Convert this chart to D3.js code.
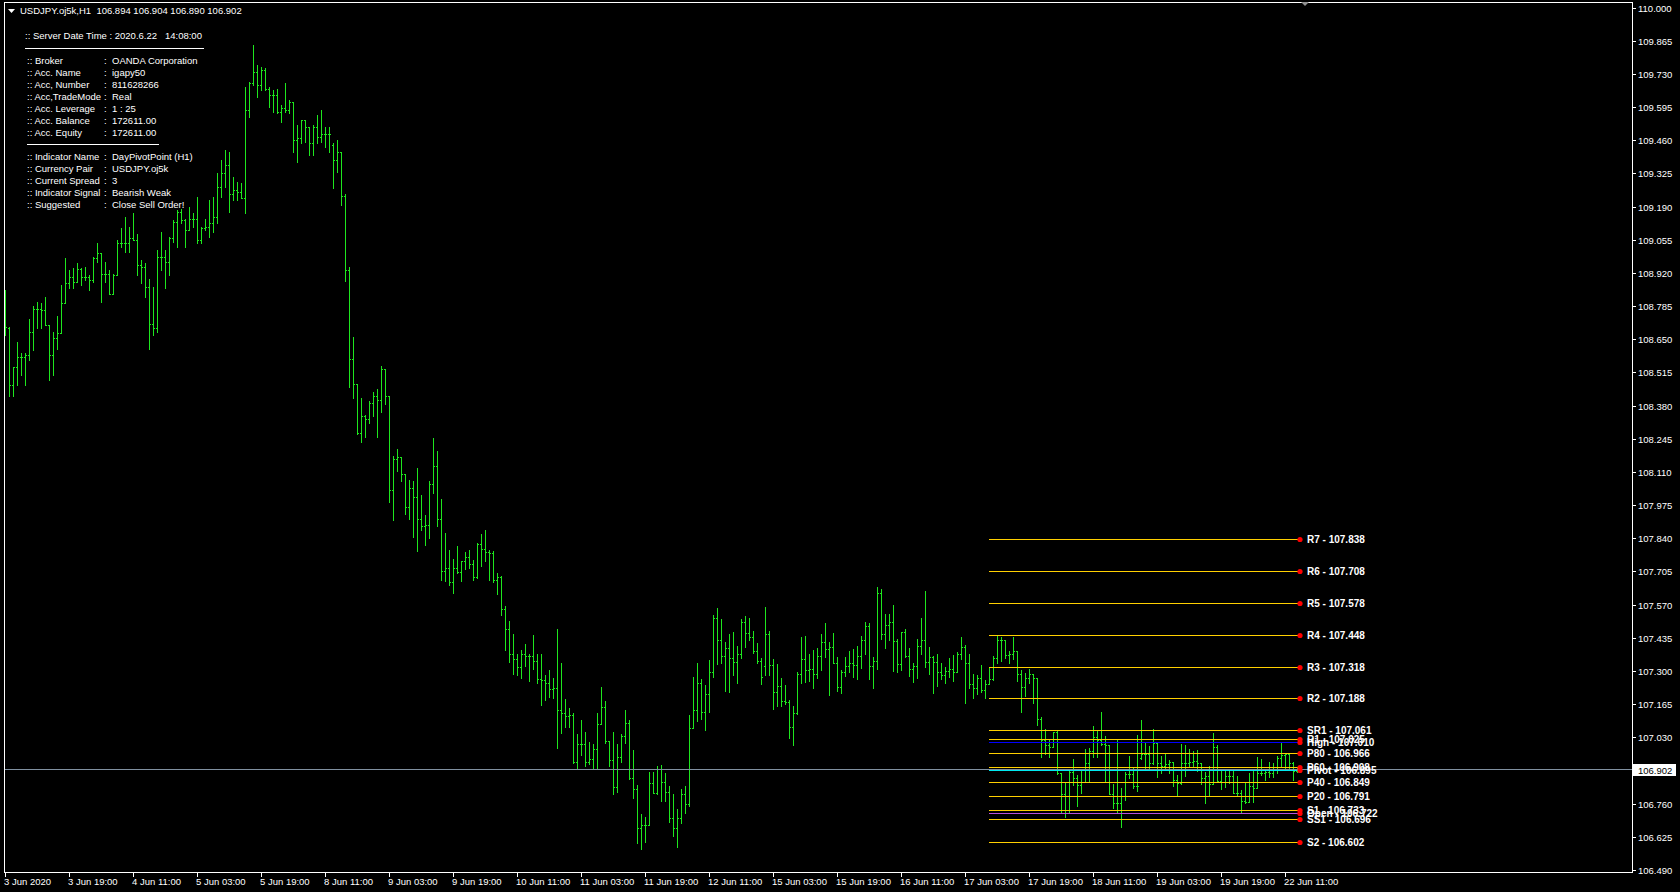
<!DOCTYPE html>
<html>
<head>
<meta charset="utf-8">
<script src="https://cdn.jsdelivr.net/npm/d3@7"></script>
<style>
  html, body { margin: 0; padding: 0; background: #000; overflow: hidden; }
  text { font-family: "Liberation Sans", Arial, sans-serif; }
</style>
</head>
<body>
<div id="chart"></div>
<script>
// USDJPY H1 bars, 3 Jun 03:00 .. 22 Jun 14:00
const opens = [
  108.800,108.697,108.463,108.538,108.579,108.579,108.585,108.680,108.775,108.775,
  108.768,108.708,108.585,108.653,108.676,108.796,108.877,108.904,108.884,108.934,
  108.904,108.904,108.891,108.979,108.999,108.917,108.917,108.836,108.911,109.040,
  109.040,109.040,109.060,109.053,108.952,108.945,108.863,108.714,108.694,108.986,
  108.986,108.965,109.060,109.128,109.168,109.135,109.094,109.141,109.141,109.053,
  109.101,109.107,109.121,109.148,109.270,109.325,109.358,109.243,109.257,109.250,
  109.223,109.582,109.691,109.738,109.684,109.745,109.670,109.643,109.643,109.576,
  109.589,109.582,109.616,109.460,109.467,109.542,109.514,109.447,109.514,109.474,
  109.487,109.487,109.440,109.379,109.413,109.233,108.930,108.570,108.466,108.267,
  108.339,108.324,108.390,108.419,108.403,108.529,108.419,108.036,108.161,108.172,
  108.100,107.968,108.043,108.006,107.917,107.888,107.892,108.059,108.134,107.917,
  107.708,107.718,107.661,107.718,107.702,107.746,107.765,107.736,107.684,107.816,
  107.797,107.784,107.780,107.670,107.684,107.551,107.471,107.367,107.348,107.316,
  107.367,107.361,107.361,107.339,107.269,107.263,107.253,107.225,107.229,107.140,
  107.127,107.117,107.121,106.931,107.001,107.001,106.931,106.941,106.982,107.083,
  107.153,107.016,106.937,106.827,106.950,107.035,107.089,106.865,106.821,106.660,
  106.675,106.675,106.846,106.804,106.899,106.850,106.808,106.700,106.660,106.700,
  106.800,106.760,107.069,107.141,107.249,107.131,107.205,107.294,107.514,107.428,
  107.361,107.392,107.351,107.335,107.369,107.498,107.453,107.439,107.381,107.340,
  107.320,107.449,107.323,107.215,107.240,107.179,107.172,107.073,107.127,107.286,
  107.348,107.304,107.310,107.286,107.362,107.416,107.388,107.399,107.333,107.236,
  107.294,107.320,107.333,107.324,107.361,107.426,107.483,107.320,107.340,107.618,
  107.449,107.487,107.498,107.422,107.327,107.457,107.362,107.310,107.321,107.403,
  107.426,107.335,107.355,107.335,107.297,107.283,107.300,107.306,107.294,107.367,
  107.399,107.331,107.245,107.232,107.270,107.222,107.245,107.267,107.351,107.428,
  107.428,107.365,107.371,107.382,107.287,107.233,107.270,107.287,107.270,107.103,
  107.021,106.998,106.989,107.053,106.883,106.799,106.791,106.890,106.863,106.836,
  106.899,106.926,106.974,107.032,107.019,107.002,106.998,106.799,106.764,106.764,
  106.791,106.880,106.880,106.832,106.945,106.964,106.962,106.926,107.005,106.926,
  106.913,106.921,106.931,106.856,106.845,106.924,106.926,106.931,106.933,106.924,
  106.863,106.872,106.840,106.992,106.853,106.849,106.872,106.872,106.804,106.804,
  106.770,106.768,106.832,106.822,106.883,106.883,106.890,106.886,106.910,106.944,
  106.958,106.964,106.924,106.894
];
const highs = [
  108.850,108.700,108.538,108.640,108.595,108.592,108.734,108.785,108.802,108.798,
  108.823,108.708,108.680,108.744,108.870,108.979,108.931,108.938,108.959,108.938,
  108.945,108.911,108.986,109.040,108.999,108.965,108.931,108.917,109.053,109.101,
  109.148,109.107,109.162,109.078,108.972,108.959,108.897,108.863,109.012,109.087,
  109.012,109.067,109.135,109.175,109.182,109.141,109.189,109.162,109.230,109.107,
  109.141,109.216,109.230,109.325,109.379,109.420,109.413,109.311,109.291,109.284,
  109.677,109.698,109.847,109.766,109.759,109.752,109.677,109.664,109.670,109.603,
  109.691,109.623,109.616,109.521,109.542,109.542,109.514,109.521,109.562,109.582,
  109.514,109.514,109.447,109.460,109.413,109.239,108.945,108.659,108.466,108.409,
  108.343,108.400,108.434,108.447,108.542,108.529,108.419,108.176,108.204,108.172,
  108.100,108.078,108.074,108.125,108.015,107.935,108.074,108.248,108.195,107.998,
  107.860,107.793,107.755,107.807,107.746,107.784,107.793,107.750,107.822,107.858,
  107.873,107.793,107.788,107.699,107.686,107.566,107.504,107.452,107.367,107.386,
  107.409,107.367,107.448,107.367,107.367,107.282,107.304,107.272,107.471,107.333,
  107.187,107.149,107.127,107.045,107.102,107.051,107.011,107.001,107.130,107.234,
  107.177,107.016,107.051,107.001,107.045,107.140,107.102,106.978,106.837,106.717,
  106.704,106.888,106.888,106.912,106.918,106.884,106.831,106.800,106.740,106.820,
  106.830,107.120,107.276,107.331,107.267,107.243,107.344,107.528,107.555,107.510,
  107.419,107.450,107.457,107.401,107.510,107.523,107.514,107.462,107.412,107.351,
  107.561,107.462,107.348,107.328,107.270,107.243,107.181,107.157,107.294,107.437,
  107.442,107.367,107.385,107.392,107.450,107.494,107.416,107.453,107.355,107.304,
  107.355,107.381,107.389,107.401,107.442,107.500,107.494,107.355,107.640,107.633,
  107.531,107.531,107.568,107.432,107.460,107.470,107.392,107.331,107.432,107.514,
  107.625,107.396,107.361,107.369,107.333,107.315,107.351,107.365,107.376,107.437,
  107.405,107.371,107.287,107.283,107.324,107.263,107.317,107.361,107.442,107.437,
  107.428,107.382,107.437,107.382,107.304,107.290,107.306,107.287,107.270,107.111,
  107.062,107.025,107.053,107.055,106.886,106.849,106.897,106.940,106.876,106.899,
  106.981,106.985,107.076,107.055,107.134,107.035,106.998,106.840,107.025,106.822,
  106.890,106.954,106.910,107.039,107.100,107.005,106.994,107.062,107.008,106.954,
  106.961,106.937,106.931,106.876,107.002,106.998,106.982,106.975,106.978,106.926,
  106.890,106.913,107.046,106.998,106.897,106.894,106.899,106.899,106.872,106.815,
  106.845,106.886,106.903,106.951,106.940,106.903,106.931,106.926,106.954,107.005,
  106.967,106.964,106.931,106.904
];
const lows = [
  108.667,108.418,108.418,108.463,108.504,108.463,108.565,108.606,108.694,108.694,
  108.708,108.484,108.504,108.612,108.676,108.796,108.857,108.857,108.884,108.870,
  108.891,108.850,108.884,108.965,108.802,108.884,108.836,108.836,108.911,109.026,
  109.006,109.006,109.053,108.911,108.877,108.823,108.612,108.667,108.680,108.931,
  108.857,108.911,109.046,109.026,109.121,109.026,109.094,109.107,109.040,109.040,
  109.094,109.067,109.087,109.121,109.230,109.270,109.168,109.216,109.216,109.223,
  109.162,109.555,109.684,109.637,109.664,109.664,109.596,109.576,109.569,109.535,
  109.576,109.569,109.413,109.372,109.447,109.453,109.399,109.399,109.447,109.453,
  109.433,109.413,109.264,109.332,109.195,108.888,108.457,108.409,108.263,108.233,
  108.252,108.311,108.339,108.252,108.352,108.385,107.987,107.913,108.115,108.072,
  107.939,107.917,107.846,107.788,107.873,107.812,107.841,108.024,107.888,107.670,
  107.665,107.651,107.619,107.699,107.665,107.714,107.718,107.670,107.680,107.727,
  107.746,107.670,107.661,107.613,107.528,107.386,107.335,107.286,107.282,107.272,
  107.320,107.259,107.310,107.253,107.162,107.181,107.193,107.191,106.988,107.049,
  107.073,107.073,106.926,106.899,106.960,106.912,106.922,106.899,106.899,107.083,
  107.007,106.912,106.799,106.808,106.931,107.007,106.861,106.785,106.600,106.575,
  106.604,106.675,106.802,106.799,106.770,106.770,106.685,106.630,106.585,106.680,
  106.720,106.750,107.066,107.097,107.103,107.059,107.134,107.276,107.328,107.331,
  107.219,107.215,107.283,107.252,107.354,107.399,107.428,107.374,107.333,107.247,
  107.283,107.283,107.145,107.158,107.158,107.165,107.028,106.998,107.125,107.249,
  107.256,107.260,107.232,107.272,107.304,107.358,107.202,107.331,107.219,107.211,
  107.281,107.294,107.274,107.266,107.313,107.369,107.266,107.229,107.306,107.432,
  107.392,107.428,107.301,107.297,107.304,107.358,107.281,107.256,107.272,107.371,
  107.317,107.287,107.211,107.240,107.266,107.252,107.277,107.260,107.294,107.347,
  107.168,107.232,107.192,107.205,107.213,107.188,107.245,107.263,107.333,107.342,
  107.351,107.333,107.347,107.260,107.134,107.199,107.249,107.168,107.082,106.951,
  106.964,106.951,106.989,106.880,106.727,106.704,106.720,106.836,106.751,106.804,
  106.849,106.853,106.948,106.948,106.998,106.852,106.799,106.743,106.727,106.666,
  106.774,106.863,106.822,106.813,106.940,106.903,106.897,106.921,106.867,106.886,
  106.903,106.886,106.833,106.795,106.842,106.872,106.913,106.913,106.894,106.840,
  106.764,106.795,106.840,106.853,106.818,106.829,106.845,106.802,106.795,106.727,
  106.761,106.768,106.768,106.822,106.876,106.856,106.869,106.869,106.886,106.910,
  106.907,106.899,106.856,106.890
];
const closes = [
  108.701,108.463,108.538,108.579,108.579,108.585,108.680,108.775,108.775,108.768,
  108.708,108.585,108.653,108.676,108.796,108.877,108.904,108.884,108.934,108.904,
  108.904,108.891,108.979,108.999,108.917,108.917,108.836,108.911,109.040,109.040,
  109.040,109.060,109.053,108.952,108.945,108.863,108.714,108.694,108.986,108.986,
  108.965,109.060,109.128,109.168,109.135,109.094,109.141,109.141,109.053,109.101,
  109.107,109.121,109.148,109.270,109.325,109.358,109.243,109.257,109.250,109.223,
  109.582,109.691,109.738,109.684,109.745,109.670,109.643,109.643,109.576,109.589,
  109.582,109.616,109.460,109.467,109.542,109.514,109.447,109.514,109.474,109.487,
  109.487,109.487,109.379,109.413,109.233,108.930,108.570,108.466,108.267,108.339,
  108.324,108.390,108.419,108.403,108.529,108.419,108.036,108.161,108.172,108.100,
  107.968,108.043,108.006,107.917,107.888,107.892,108.059,108.134,107.917,107.708,
  107.718,107.661,107.718,107.702,107.746,107.765,107.736,107.684,107.816,107.797,
  107.784,107.780,107.670,107.684,107.551,107.471,107.367,107.348,107.316,107.367,
  107.361,107.361,107.339,107.269,107.263,107.253,107.225,107.229,107.140,107.127,
  107.117,107.121,106.931,107.001,107.001,106.931,106.941,106.982,107.083,107.153,
  107.016,106.937,106.827,106.950,107.035,107.089,106.865,106.821,106.660,106.675,
  106.675,106.846,106.804,106.899,106.850,106.808,106.700,106.660,106.700,106.800,
  106.760,107.069,107.141,107.249,107.131,107.205,107.294,107.514,107.428,107.361,
  107.392,107.351,107.335,107.369,107.498,107.453,107.439,107.381,107.340,107.274,
  107.449,107.323,107.215,107.240,107.179,107.172,107.073,107.127,107.286,107.348,
  107.304,107.310,107.286,107.362,107.416,107.388,107.399,107.333,107.236,107.294,
  107.320,107.333,107.324,107.361,107.426,107.483,107.320,107.340,107.618,107.449,
  107.487,107.498,107.422,107.327,107.457,107.362,107.310,107.321,107.403,107.426,
  107.335,107.355,107.335,107.297,107.283,107.300,107.306,107.294,107.367,107.399,
  107.331,107.245,107.232,107.270,107.222,107.245,107.267,107.351,107.428,107.428,
  107.365,107.371,107.382,107.287,107.233,107.270,107.287,107.270,107.103,107.021,
  106.998,106.989,107.053,106.883,106.799,106.791,106.890,106.863,106.836,106.899,
  106.926,106.974,107.032,107.019,107.002,106.998,106.799,106.764,106.764,106.791,
  106.880,106.880,106.832,106.832,106.964,106.962,106.926,107.005,106.926,106.913,
  106.921,106.931,106.856,106.845,106.924,106.926,106.931,106.933,106.924,106.863,
  106.872,106.840,106.992,106.853,106.849,106.872,106.872,106.804,106.804,106.770,
  106.768,106.832,106.822,106.883,106.883,106.890,106.886,106.910,106.944,106.958,
  106.964,106.924,106.894,106.902
];

// time axis labels every 16 bars
const timeLabels = [
  '3 Jun 2020', '3 Jun 19:00', '4 Jun 11:00', '5 Jun 03:00', '5 Jun 19:00',
  '8 Jun 11:00', '9 Jun 03:00', '9 Jun 19:00', '10 Jun 11:00', '11 Jun 03:00',
  '11 Jun 19:00', '12 Jun 11:00', '15 Jun 03:00', '15 Jun 19:00', '16 Jun 11:00',
  '17 Jun 03:00', '17 Jun 19:00', '18 Jun 11:00', '19 Jun 03:00', '19 Jun 19:00',
  '22 Jun 11:00'
];
// price axis (106.895 is hidden behind the bid label)
const priceTicks = [
  110.000, 109.865, 109.730, 109.595, 109.460, 109.325, 109.190, 109.055, 108.920,
  108.785, 108.650, 108.515, 108.380, 108.245, 108.110, 107.975, 107.840, 107.705,
  107.570, 107.435, 107.300, 107.165, 107.030, 106.760, 106.625, 106.490
];

// DayPivotPoint levels
const pivotNames = ['R7', 'R6', 'R5', 'R4', 'R3', 'R2', 'SR1', 'R1', 'High', 'P80',
  'P60', 'Pivot', 'P40', 'P20', 'S1', 'Open', 'SS1', 'S2'];
const pivotValues = [107.838, 107.708, 107.578, 107.448, 107.318, 107.188, 107.061,
  107.025, 107.010, 106.966, 106.908, 106.895, 106.849, 106.791, 106.733, 106.722,
  106.696, 106.602];
const pivotStartBar = 246;

const bid = 106.902;
const header = ['USDJPY.oj5k,H1', 106.894, 106.904, 106.890, 106.902];

const infoLabels1 = [':: Broker', ':: Acc. Name', ':: Acc, Number', ':: Acc,TradeMode',
  ':: Acc. Leverage', ':: Acc. Balance', ':: Acc. Equity'];
const infoValues1 = ['OANDA Corporation', 'igapy50', '811628266', 'Real', '1 : 25',
  '172611.00', '172611.00'];
const infoLabels2 = [':: Indicator Name', ':: Currency Pair', ':: Current Spread',
  ':: Indicator Signal', ':: Suggested'];
const infoValues2 = ['DayPivotPoint (H1)', 'USDJPY.oj5k', '3', 'Bearish Weak',
  'Close Sell Order!'];

// ---- layout ----
const W = 1680, H = 892;
const plotL = 4, plotR = 1632, plotT = 2, plotB = 872;
const barColor = '#1ee61e';
const lineColor = { High: '#0000ff', Pivot: '#00e8f0', Open: '#b850d8' };

const svg = d3.select('#chart').append('svg')
  .attr('width', W).attr('height', H)
  .style('background', '#000');

const x = d3.scaleLinear().domain([0, opens.length - 1]).range([5, 1297]);
const y = d3.scaleLinear().domain([106.490, 110.000]).range([870, 7.5]);
const px = v => Math.round(x(v));
const py = v => Math.round(y(v));

// bars
const bars = svg.append('g')
  .attr('stroke', barColor)
  .attr('stroke-width', 1)
  .attr('fill', 'none')
  .attr('shape-rendering', 'crispEdges');

bars.selectAll('path')
  .data(d3.range(opens.length))
  .join('path')
  .attr('d', i => {
    const xi = px(i);
    return `M${xi + 0.5},${py(highs[i])}V${py(lows[i]) + 1}` +
      `M${xi - 1},${py(opens[i]) + 0.5}h1` +
      `M${xi + 1},${py(closes[i]) + 0.5}h1`;
  });

// bid line
svg.append('line')
  .attr('x1', plotL).attr('x2', plotR)
  .attr('y1', py(bid) + 0.5).attr('y2', py(bid) + 0.5)
  .attr('stroke', '#8090a0')
  .attr('shape-rendering', 'crispEdges');

// pivot lines, dots and labels
const pv = svg.append('g');
const pxStart = px(pivotStartBar);
const pxEnd = 1298;
pv.selectAll('line')
  .data(pivotNames)
  .join('line')
  .attr('x1', pxStart).attr('x2', pxEnd)
  .attr('y1', (d, i) => py(pivotValues[i]) + 0.5)
  .attr('y2', (d, i) => py(pivotValues[i]) + 0.5)
  .attr('stroke', d => lineColor[d] || '#ffd000')
  .attr('stroke-width', 1)
  .attr('shape-rendering', 'crispEdges');

pv.selectAll('circle')
  .data(pivotNames)
  .join('circle')
  .attr('cx', pxEnd + 2)
  .attr('cy', (d, i) => py(pivotValues[i]) + 0.5)
  .attr('r', 2.6)
  .attr('fill', '#ff0000');

pv.selectAll('text')
  .data(pivotNames)
  .join('text')
  .attr('x', pxEnd + 9)
  .attr('y', (d, i) => py(pivotValues[i]) + 4)
  .attr('fill', '#ffffff')
  .attr('font-size', 10)
  .attr('font-weight', 'bold')
  .text((d, i) => `${d} - ${pivotValues[i].toFixed(3)}`);

// frame
svg.append('rect')
  .attr('x', plotL + 0.5).attr('y', plotT + 0.5)
  .attr('width', plotR - plotL).attr('height', plotB - plotT)
  .attr('fill', 'none')
  .attr('stroke', '#ffffff')
  .attr('shape-rendering', 'crispEdges');

// price axis
const pa = svg.append('g');
pa.selectAll('line')
  .data(priceTicks)
  .join('line')
  .attr('x1', plotR).attr('x2', plotR + 4)
  .attr('y1', d => py(d) + 0.5).attr('y2', d => py(d) + 0.5)
  .attr('stroke', '#ffffff')
  .attr('shape-rendering', 'crispEdges');
pa.selectAll('text')
  .data(priceTicks)
  .join('text')
  .attr('x', plotR + 6)
  .attr('y', d => py(d) + 4)
  .attr('fill', '#ffffff')
  .attr('font-size', 9.5)
  .text(d => d.toFixed(3));

// bid label
svg.append('rect')
  .attr('x', plotR + 1).attr('y', py(bid) - 5)
  .attr('width', 43).attr('height', 12)
  .attr('fill', '#ffffff');
svg.append('text')
  .attr('x', plotR + 6).attr('y', py(bid) + 4.5)
  .attr('fill', '#000000')
  .attr('font-size', 9.5)
  .text(bid.toFixed(3));

// time axis
const ta = svg.append('g');
ta.selectAll('line')
  .data(timeLabels)
  .join('line')
  .attr('x1', (d, i) => px(i * 16) + 0.5).attr('x2', (d, i) => px(i * 16) + 0.5)
  .attr('y1', plotB).attr('y2', plotB + 5)
  .attr('stroke', '#ffffff')
  .attr('shape-rendering', 'crispEdges');
ta.selectAll('text')
  .data(timeLabels)
  .join('text')
  .attr('x', (d, i) => px(i * 16) - 1)
  .attr('y', plotB + 13)
  .attr('fill', '#ffffff')
  .attr('font-size', 9.5)
  .text(d => d);

// header and chart shift marker
svg.append('path').attr('d', 'M8,9L15,9L11.5,13Z').attr('fill', '#ffffff');
svg.append('text')
  .attr('x', 20).attr('y', 14)
  .attr('fill', '#ffffff')
  .attr('font-size', 9.5)
  .attr('xml:space', 'preserve')
  .text(`${header[0]}  ${header.slice(1).map(v => v.toFixed(3)).join(' ')}`);
svg.append('path').attr('d', 'M1301,2L1309,2L1305,6Z').attr('fill', '#909090');

// info panel
const info = svg.append('g').attr('fill', '#ffffff').attr('font-size', 9.5);
info.append('text').attr('x', 25).attr('y', 39)
  .attr('xml:space', 'preserve')
  .text(':: Server Date Time : 2020.6.22   14:08:00');
info.append('line').attr('x1', 25).attr('x2', 204).attr('y1', 48.5).attr('y2', 48.5)
  .attr('stroke', '#ffffff').attr('shape-rendering', 'crispEdges');
info.append('line').attr('x1', 27).attr('x2', 159).attr('y1', 144.5).attr('y2', 144.5)
  .attr('stroke', '#ffffff').attr('shape-rendering', 'crispEdges');

function infoRows(labels, values, y0) {
  labels.forEach((lab, i) => {
    const yy = y0 + i * 12;
    info.append('text').attr('x', 27).attr('y', yy).text(lab);
    info.append('text').attr('x', 104).attr('y', yy).text(':');
    info.append('text').attr('x', 112).attr('y', yy).text(values[i]);
  });
}
infoRows(infoLabels1, infoValues1, 63.5);
infoRows(infoLabels2, infoValues2, 159.5);
</script>
</body>
</html>
